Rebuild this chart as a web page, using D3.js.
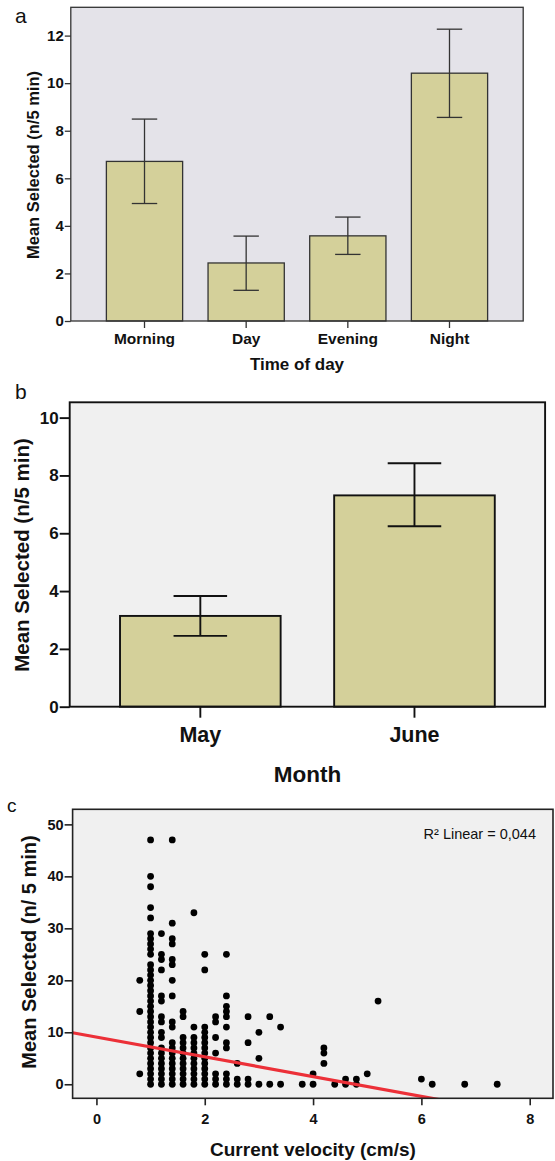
<!DOCTYPE html>
<html>
<head>
<meta charset="utf-8">
<script src="https://cdn.jsdelivr.net/npm/d3@7"></script>
<style>
  body { margin: 0; background: #fff; }
  text { font-family: "Liberation Sans", Arial, Helvetica, sans-serif; }
</style>
</head>
<body>
<script>
// panel a: time of day
const timeCategories = ["Morning", "Day", "Evening", "Night"];
const timeMeans = [6.71, 2.44, 3.58, 10.42];
const timeUpper = [8.49, 3.57, 4.37, 12.27];
const timeLower = [4.94, 1.29, 2.80, 8.56];
const timeTicks = [0, 2, 4, 6, 8, 10, 12];

// panel b: month
const monthCategories = ["May", "June"];
const monthMeans = [3.14, 7.31];
const monthUpper = [3.83, 8.42];
const monthLower = [2.45, 6.24];
const monthTicks = [0, 2, 4, 6, 8, 10];

// panel c: scatter, one column of y values per velocity
const velocityColumns = [0.8, 1.0, 1.2, 1.4, 1.6, 1.8, 2.0, 2.2, 2.4, 2.6, 2.8, 3.0, 3.2, 3.4,
                         3.8, 4.0, 4.2, 4.4, 4.6, 4.8, 5.0, 5.2, 6.0, 6.2, 6.8, 7.4];
const selectedByColumn = [
  [20, 14, 2],
  [0, 1, 2, 3, 4, 5, 6, 7, 8, 9, 10, 11, 12, 13, 14, 15, 16, 17, 18, 19, 20, 21, 22, 23,
   25, 26, 27, 28, 29, 32, 34, 38, 40, 47],
  [0, 1, 2, 3, 4, 5, 6, 7, 9, 10, 12, 13, 16, 17, 22, 24, 25, 29],
  [0, 1, 2, 3, 4, 5, 6, 7, 8, 11, 12, 17, 20, 23, 24, 27, 28, 31, 47],
  [0, 1, 2, 3, 4, 5, 6, 7, 8, 9, 13, 14],
  [0, 1, 2, 3, 4, 5, 6, 7, 8, 9, 11, 33],
  [0, 1, 2, 3, 4, 5, 6, 7, 8, 9, 10, 11, 22, 25],
  [0, 1, 2, 6, 9, 12, 13],
  [0, 1, 2, 7, 8, 11, 13, 14, 15, 17, 25],
  [0, 1, 4],
  [0, 1, 8, 13],
  [0, 5, 10],
  [0, 13],
  [0, 11],
  [0],
  [0, 2],
  [4, 6, 7],
  [0],
  [0, 1],
  [0, 1],
  [2],
  [16],
  [1],
  [0],
  [0],
  [0]
];
const velocityTicks = [0, 2, 4, 6, 8];
const selectedTicks = [0, 10, 20, 30, 40, 50];
const fitIntercept = 9.07;
const fitSlope = -1.9;

const W = 555, H = 1161;
const svg = d3.select("body").append("svg")
  .attr("width", W)
  .attr("height", H);

const barFill = "#d4d09a";

// draws a bar panel with error bars
function barPanel(opt) {
  const g = svg.append("g");
  const x = d3.scaleBand().domain(opt.cats)
    .range([opt.left, opt.right]).paddingInner(0.25).paddingOuter(opt.padOuter);
  const y = d3.scaleLinear().domain([0, opt.yMax]).range([opt.bottom, opt.top]);

  g.append("rect")
    .attr("x", opt.left).attr("y", opt.top)
    .attr("width", opt.right - opt.left).attr("height", opt.bottom - opt.top)
    .attr("fill", opt.bg);

  const rows = opt.cats.map((c, i) => ({ c, m: opt.means[i], hi: opt.upper[i], lo: opt.lower[i] }));

  g.selectAll("rect.bar").data(rows).join("rect")
    .attr("class", "bar")
    .attr("x", d => x(d.c)).attr("y", d => y(d.m))
    .attr("width", x.bandwidth()).attr("height", d => y(0) - y(d.m))
    .attr("fill", barFill)
    .attr("stroke", opt.ink).attr("stroke-width", opt.sw);

  const cap = x.bandwidth() / 6;
  const eb = g.selectAll("g.err").data(rows).join("g").attr("class", "err")
    .attr("stroke", opt.ink).attr("stroke-width", opt.sw);
  eb.append("line")
    .attr("x1", d => x(d.c) + x.bandwidth() / 2).attr("x2", d => x(d.c) + x.bandwidth() / 2)
    .attr("y1", d => y(d.lo)).attr("y2", d => y(d.hi));
  eb.append("line")
    .attr("x1", d => x(d.c) + x.bandwidth() / 2 - cap).attr("x2", d => x(d.c) + x.bandwidth() / 2 + cap)
    .attr("y1", d => y(d.hi)).attr("y2", d => y(d.hi));
  eb.append("line")
    .attr("x1", d => x(d.c) + x.bandwidth() / 2 - cap).attr("x2", d => x(d.c) + x.bandwidth() / 2 + cap)
    .attr("y1", d => y(d.lo)).attr("y2", d => y(d.lo));

  // frame
  g.append("rect")
    .attr("x", opt.left).attr("y", opt.top)
    .attr("width", opt.right - opt.left).attr("height", opt.bottom - opt.top)
    .attr("fill", "none").attr("stroke", opt.ink).attr("stroke-width", opt.sw);

  const ya = g.append("g").attr("transform", `translate(${opt.left},0)`)
    .call(d3.axisLeft(y).tickValues(opt.ticks).tickSize(opt.tickY).tickPadding(1).tickSizeOuter(0));
  const xa = g.append("g").attr("transform", `translate(0,${opt.bottom})`)
    .call(d3.axisBottom(x).tickSize(opt.tickX).tickPadding(opt.padX).tickSizeOuter(0));
  [ya, xa].forEach(a => {
    a.select(".domain").remove();
    a.selectAll(".tick line").attr("stroke", opt.ink).attr("stroke-width", opt.sw);
    a.selectAll("text").attr("fill", "#111").attr("font-weight", "bold").attr("font-family", null);
  });
  ya.selectAll("text").attr("font-size", opt.fsY);
  xa.selectAll("text").attr("font-size", opt.fsX);

  g.append("text")
    .attr("x", (opt.left + opt.right) / 2 + opt.titleShift).attr("y", opt.xTitleY)
    .attr("text-anchor", "middle").attr("font-weight", "bold")
    .attr("font-size", opt.fsXT).attr("fill", "#111")
    .text(opt.xTitle);
  g.append("text")
    .attr("transform", `translate(${opt.yTitleX},${opt.yTitleMid}) rotate(-90)`)
    .attr("text-anchor", "middle").attr("font-weight", "bold")
    .attr("font-size", opt.fsYT).attr("fill", "#111")
    .text("Mean Selected (n/5 min)");
  g.append("text")
    .attr("x", opt.tagX).attr("y", opt.tagY)
    .attr("font-size", 21).attr("fill", "#111")
    .text(opt.tag);
}

barPanel({
  cats: timeCategories, means: timeMeans, upper: timeUpper, lower: timeLower, ticks: timeTicks,
  left: 70.8, right: 523.2, top: 7.3, bottom: 321, yMax: 13.19, padOuter: 0.35,
  bg: "#e4e3e9", ink: "#333", sw: 1.3, tickY: 6, tickX: 7, padX: 5,
  fsY: 15, fsX: 15.5, fsXT: 17, fsYT: 16.5, xTitle: "Time of day", xTitleY: 369.5, titleShift: 0,
  yTitleX: 39, yTitleMid: 165, tag: "a", tagX: 15, tagY: 23
});

barPanel({
  cats: monthCategories, means: monthMeans, upper: monthUpper, lower: monthLower, ticks: monthTicks,
  left: 69.7, right: 545.1, top: 402.3, bottom: 706.7, yMax: 10.53, padOuter: 0.235,
  bg: "#f0f0f0", ink: "#111", sw: 1.9, tickY: 10, tickX: 11, padX: 9,
  fsY: 17, fsX: 21.5, fsXT: 22.5, fsYT: 20.5, xTitle: "Month", xTitleY: 782, titleShift: 0,
  yTitleX: 29, yTitleMid: 555, tag: "b", tagX: 15, tagY: 399
});

// panel c: scatter with fit line
const cL = 72.6, cR = 553, cT = 809.3, cB = 1098.3;
const xc = d3.scaleLinear().domain([-0.44, 8.43]).range([cL, cR]);
const yc = d3.scaleLinear().domain([-2.7, 52.9]).range([cB, cT]);
const gc = svg.append("g");

gc.append("rect")
  .attr("x", cL).attr("y", cT).attr("width", cR - cL).attr("height", cB - cT)
  .attr("fill", "#f0f0f0");

const points = [];
velocityColumns.forEach((v, i) => selectedByColumn[i].forEach(s => points.push({ v, s })));

gc.selectAll("circle").data(points).join("circle")
  .attr("cx", d => xc(d.v)).attr("cy", d => yc(d.s))
  .attr("r", 3.4).attr("fill", "#000");

svg.append("clipPath").attr("id", "clipc")
  .append("rect").attr("x", cL).attr("y", cT).attr("width", cR - cL).attr("height", cB - cT);

const fitX = xc.domain();
gc.append("line")
  .attr("clip-path", "url(#clipc)")
  .attr("x1", xc(fitX[0])).attr("y1", yc(fitIntercept + fitSlope * fitX[0]))
  .attr("x2", xc(fitX[1])).attr("y2", yc(fitIntercept + fitSlope * fitX[1]))
  .attr("stroke", "#ec3038").attr("stroke-width", 3.2);

gc.append("rect")
  .attr("x", cL).attr("y", cT).attr("width", cR - cL).attr("height", cB - cT)
  .attr("fill", "none").attr("stroke", "#222").attr("stroke-width", 1.6);

const yac = gc.append("g").attr("transform", `translate(${cL},0)`)
  .call(d3.axisLeft(yc).tickValues(selectedTicks).tickSize(8).tickPadding(1).tickSizeOuter(0));
const xac = gc.append("g").attr("transform", `translate(0,${cB})`)
  .call(d3.axisBottom(xc).tickValues(velocityTicks).tickSize(7).tickPadding(8).tickSizeOuter(0));
[yac, xac].forEach(a => {
  a.select(".domain").remove();
  a.selectAll(".tick line").attr("stroke", "#222").attr("stroke-width", 1.6);
  a.selectAll("text").attr("fill", "#111").attr("font-weight", "bold")
    .attr("font-size", 14.5).attr("font-family", null);
});

gc.append("text")
  .attr("x", 536).attr("y", 839)
  .attr("text-anchor", "end").attr("font-size", 14.5).attr("fill", "#111")
  .text("R² Linear = 0,044");

gc.append("text")
  .attr("x", 313).attr("y", 1155.5)
  .attr("text-anchor", "middle").attr("font-weight", "bold")
  .attr("font-size", 19).attr("fill", "#111")
  .text("Current velocity (cm/s)");
gc.append("text")
  .attr("transform", `translate(36,952) rotate(-90)`)
  .attr("text-anchor", "middle").attr("font-weight", "bold")
  .attr("font-size", 20).attr("fill", "#111")
  .text("Mean Selected (n/ 5 min)");
gc.append("text")
  .attr("x", 7).attr("y", 812)
  .attr("font-size", 19).attr("fill", "#111")
  .text("c");
</script>
</body>
</html>
